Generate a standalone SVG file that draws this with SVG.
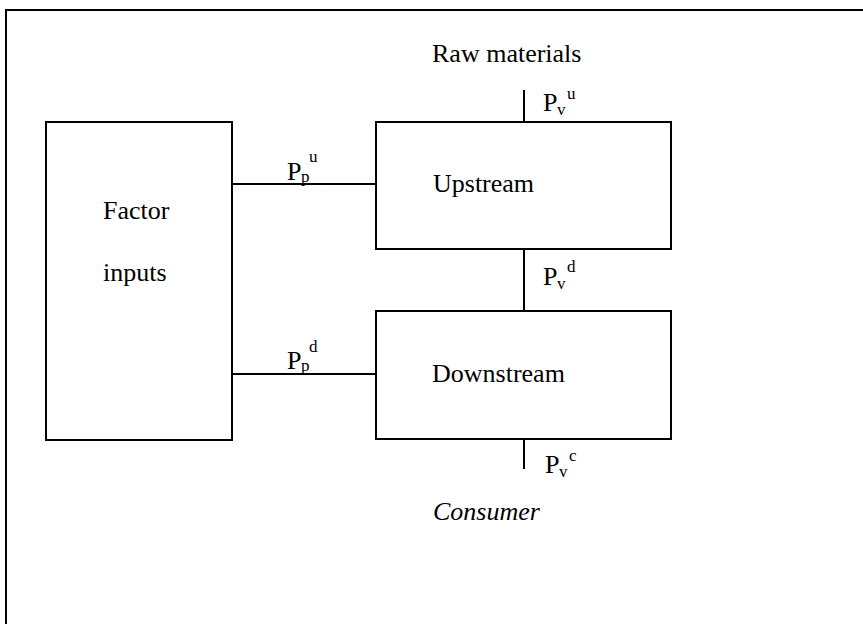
<svg xmlns="http://www.w3.org/2000/svg" width="863" height="624" viewBox="0 0 863 624">
  <style>
    .box { fill: #ffffff; stroke: #000000; stroke-width: 2; }
    .frame { fill: none; stroke: #000000; stroke-width: 2; }
    .link { fill: none; stroke: #000000; stroke-width: 2; }
    .lbl { font-family: "Liberation Serif", "Times New Roman", serif; font-size: 26px; fill: #000000; }
    .it { font-style: italic; }
    .sm { font-size: 17px; }
  </style>
  <rect width="863" height="624" fill="#ffffff"/>
  <!-- outer frame, runs off the right and bottom edges -->
  <rect class="frame" x="6" y="10" width="880" height="640"/>

  <g id="connectors">
    <line class="link" x1="524" y1="90" x2="524" y2="123"/>
    <line class="link" x1="232" y1="184" x2="376" y2="184"/>
    <line class="link" x1="524" y1="249" x2="524" y2="311"/>
    <line class="link" x1="229" y1="374" x2="376" y2="374"/>
    <line class="link" x1="524" y1="439" x2="524" y2="469"/>
  </g>

  <g id="factor-inputs">
    <rect class="box" x="46" y="122" width="186" height="318"/>
    <text class="lbl" x="103" y="219">Factor</text>
    <text class="lbl" x="103" y="281">inputs</text>
  </g>

  <g id="upstream">
    <rect class="box" x="376" y="122" width="295" height="127"/>
    <text class="lbl" x="433" y="192">Upstream</text>
  </g>

  <g id="downstream">
    <rect class="box" x="376" y="311" width="295" height="128"/>
    <text class="lbl" x="432" y="382">Downstream</text>
  </g>

  <g id="raw-materials">
    <text class="lbl" x="432" y="62">Raw materials</text>
  </g>

  <g id="consumer">
    <text class="lbl it" x="433" y="520">Consumer</text>
  </g>

  <g id="price-labels">
    <text class="lbl" x="543" y="111">P<tspan class="sm" x="557" y="115">v</tspan><tspan class="sm" x="567" y="99">u</tspan></text>
    <text class="lbl" x="287" y="180">P<tspan class="sm" x="301" y="182">p</tspan><tspan class="sm" x="309" y="162">u</tspan></text>
    <text class="lbl" x="543" y="285">P<tspan class="sm" x="557" y="289">v</tspan><tspan class="sm" x="567" y="272">d</tspan></text>
    <text class="lbl" x="287" y="369">P<tspan class="sm" x="301" y="371">p</tspan><tspan class="sm" x="309" y="352">d</tspan></text>
    <text class="lbl" x="545" y="473">P<tspan class="sm" x="559" y="477">v</tspan><tspan class="sm" x="569" y="461">c</tspan></text>
  </g>
</svg>
